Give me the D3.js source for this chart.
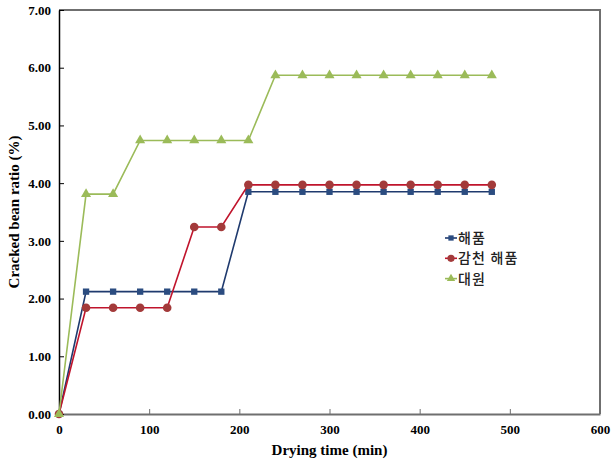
<!DOCTYPE html>
<html>
<head>
<meta charset="utf-8">
<script src="https://cdn.jsdelivr.net/npm/d3@7"></script>
<style>
  body { margin: 0; background: #fff; }
  .tick text { font-family: "Liberation Serif", "Times New Roman", serif; font-weight: bold; font-size: 13px; fill: #000; }
  .title { font-family: "Liberation Serif", "Times New Roman", serif; font-weight: bold; font-size: 15px; fill: #000; }
  .legend text { font-family: "Noto Sans CJK KR", sans-serif; font-size: 14px; font-weight: 500; letter-spacing: 1.2px; fill: #222; }
</style>
</head>
<body>
<script>
'use strict';

// drying time (min)
var times = [0, 30, 60, 90, 120, 150, 180, 210, 240, 270, 300, 330, 360, 390, 420, 450, 480];

var haepum = [0, 2.12, 2.12, 2.12, 2.12, 2.12, 2.12, 3.85, 3.85, 3.85, 3.85, 3.85, 3.85, 3.85, 3.85, 3.85, 3.85];
var gamcheon = [0, 1.84, 1.84, 1.84, 1.84, 3.24, 3.24, 3.97, 3.97, 3.97, 3.97, 3.97, 3.97, 3.97, 3.97, 3.97, 3.97];
var daewon = [0, 3.81, 3.81, 4.74, 4.74, 4.74, 4.74, 4.74, 5.87, 5.87, 5.87, 5.87, 5.87, 5.87, 5.87, 5.87, 5.87];

var seriesNames = ['해품', '감천 해품', '대원'];
var xTicks = [0, 100, 200, 300, 400, 500, 600];
var yTicks = [0, 1, 2, 3, 4, 5, 6, 7];

var series = [
    { name: seriesNames[0], values: haepum, line: '#1F3A6E', marker: '#2B4C80', shape: d3.symbolSquare, size: 40 },
    { name: seriesNames[1], values: gamcheon, line: '#C0142C', marker: '#A33A3A', shape: d3.symbolCircle, size: 58 },
    { name: seriesNames[2], values: daewon, line: '#9BBB59', marker: '#9BBB59', shape: d3.symbolTriangle, size: 44 }
];

var width = 615, height = 463;
var margin = { left: 59, right: 15, top: 10, bottom: 49 };

var svg = d3.select('body').append('svg')
    .attr('width', width)
    .attr('height', height);

var x = d3.scaleLinear().domain([0, 600]).range([margin.left, width - margin.right]);
var y = d3.scaleLinear().domain([0, 7]).range([height - margin.bottom, margin.top]);

// frame (top and right)
svg.append('path')
    .attr('d', 'M' + x(0) + ',' + y(7) + 'H' + x(600) + 'V' + y(0))
    .attr('fill', 'none')
    .attr('stroke', '#6f6f6f')
    .attr('stroke-width', 2);

var xAxis = svg.append('g')
    .attr('transform', 'translate(0,' + y(0) + ')')
    .call(d3.axisBottom(x).tickValues(xTicks).tickSizeInner(-5).tickSizeOuter(0).tickPadding(11).tickFormat(d3.format('d')));
xAxis.select('.domain').attr('stroke', '#6f6f6f').attr('stroke-width', 2);
xAxis.selectAll('.tick line').attr('stroke', '#6f6f6f');

var yAxis = svg.append('g')
    .attr('transform', 'translate(' + x(0) + ',0)')
    .call(d3.axisLeft(y).tickValues(yTicks).tickSizeInner(-5).tickSizeOuter(0).tickPadding(8).tickFormat(d3.format('.2f')));
yAxis.select('.domain').attr('stroke', '#000').attr('stroke-width', 1.5);
yAxis.selectAll('.tick line').attr('stroke', '#000');

svg.append('text')
    .attr('class', 'title')
    .attr('x', (x(0) + x(600)) / 2)
    .attr('y', 455)
    .attr('text-anchor', 'middle')
    .text('Drying time (min)');

svg.append('text')
    .attr('class', 'title')
    .attr('transform', 'translate(19,' + (y(0) + y(7)) / 2 + ') rotate(-90)')
    .attr('text-anchor', 'middle')
    .text('Cracked bean ratio (%)');

var line = d3.line()
    .x(function(d, i) { return x(times[i]); })
    .y(function(d) { return y(d); });

series.forEach(function(s) {
    var g = svg.append('g');
    g.append('path')
        .attr('d', line(s.values))
        .attr('fill', 'none')
        .attr('stroke', s.line)
        .attr('stroke-width', 1.6);
    g.selectAll('path.pt')
        .data(s.values)
        .enter().append('path')
        .attr('class', 'pt')
        .attr('transform', function(d, i) { return 'translate(' + x(times[i]) + ',' + y(d) + ')'; })
        .attr('d', d3.symbol().type(s.shape).size(s.size))
        .attr('fill', s.marker);
});

// legend
var legend = svg.append('g')
    .attr('class', 'legend')
    .attr('transform', 'translate(445,238)');

var item = legend.selectAll('g')
    .data(series)
    .enter().append('g')
    .attr('transform', function(d, i) { return 'translate(0,' + (i * 20.3) + ')'; });

item.append('line')
    .attr('x1', 0).attr('x2', 12)
    .attr('stroke', function(d) { return d.line; })
    .attr('stroke-width', 1.6);

item.append('path')
    .attr('transform', 'translate(6,0)')
    .attr('d', function(d) { return d3.symbol().type(d.shape).size(d.size * 0.7)(); })
    .attr('fill', function(d) { return d.marker; });

item.append('text')
    .attr('x', 13)
    .attr('dy', '0.35em')
    .text(function(d) { return d.name; });
</script>
</body>
</html>
